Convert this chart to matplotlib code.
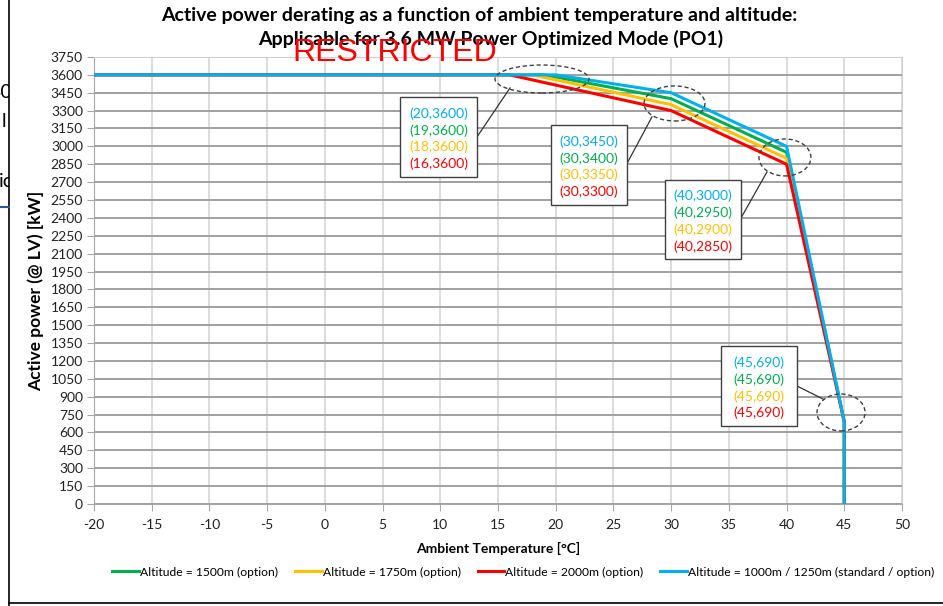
import matplotlib.pyplot as plt
from matplotlib.patches import Ellipse, Rectangle
import numpy as np

# derating curves (temperature degC, power kW)
temp_1500 = [-20, 19, 30, 40, 45, 45]
pow_1500 = [3600, 3600, 3400, 2950, 690, 0]
temp_1750 = [-20, 18, 30, 40, 45, 45]
pow_1750 = [3600, 3600, 3350, 2900, 690, 0]
temp_2000 = [-20, 16, 30, 40, 45, 45]
pow_2000 = [3600, 3600, 3300, 2850, 690, 0]
temp_1000 = [-20, 20, 30, 40, 45, 45]
pow_1000 = [3600, 3600, 3450, 3000, 690, 0]

labels = ['Altitude = 1500m (option)', 'Altitude = 1750m (option)',
          'Altitude = 2000m (option)', 'Altitude = 1000m / 1250m (standard / option)']
colors = ['#00b050', '#ffc000', '#ff0000', '#00b0f0']

# callout texts, one block per break point (order: 1000, 1500, 1750, 2000)
callouts = [
    ['(20,3600)', '(19,3600)', '(18,3600)', '(16,3600)'],
    ['(30,3450)', '(30,3400)', '(30,3350)', '(30,3300)'],
    ['(40,3000)', '(40,2950)', '(40,2900)', '(40,2850)'],
    ['(45,690)', '(45,690)', '(45,690)', '(45,690)'],
]
txt_colors = ['#00b0f0', '#00b050', '#ffc000', '#ff0000']

plt.rcParams['font.family'] = ['Lato', 'DejaVu Sans']
plt.rcParams['axes.unicode_minus'] = False

fig = plt.figure(figsize=(9.43, 6.06), dpi=100)
ax = fig.add_axes([0.0997, 0.1683, 0.8568, 0.7377])

series = [(temp_1500, pow_1500), (temp_1750, pow_1750), (temp_2000, pow_2000), (temp_1000, pow_1000)]
for (t, p), c, lab in zip(series, colors, labels):
    ax.plot(t, p, color=c, lw=2.2, label=lab, zorder=3)

ax.set_xlim(-20, 50)
ax.set_ylim(0, 3750)
ax.set_xticks(np.arange(-20, 51, 5))
ax.set_yticks(np.arange(0, 3751, 150))
ax.tick_params(labelsize=10, length=5, color='#a6a6a6', colors='#222222', pad=3)
ax.tick_params(axis='x', pad=6)
ax.yaxis.grid(True, color='#a0a0a0', lw=1.4)
ax.xaxis.grid(True, color='#d9d9d9', lw=1.3)
for s in ax.spines.values():
    s.set_color('#d0d0d0')
ax.spines['left'].set_color('#a6a6a6')
ax.spines['bottom'].set_color('#a6a6a6')

ax.set_xlabel('Ambient Temperature [°C]', fontsize=10, fontweight='bold', labelpad=8)
ax.set_ylabel('Active power (@ LV) [kW]', fontsize=12.5, fontweight='bold')
ax.yaxis.set_label_coords(-0.062, 0.477)

fig.text(0.508, 0.975, 'Active power derating as a function of ambient temperature and altitude:',
         ha='center', va='center', fontsize=14, fontweight='bold')
fig.text(0.52, 0.936, 'Applicable for 3.6 MW Power Optimized Mode (PO1)',
         ha='center', va='center', fontsize=14, fontweight='bold')
fig.text(0.419, 0.913, 'RESTRICTED', ha='center', va='center', fontsize=23,
         color='red', family='Liberation Sans', zorder=10)

# dashed ellipses around break points
ellipses = [((18.81, 3565), 8.14, 235), ((30.29, 3360), 5.28, 294),
            ((39.86, 2907), 4.5, 310), ((44.72, 768), 4.16, 310)]
for (cx, cy), w, h in ellipses:
    ax.add_patch(Ellipse((cx, cy), w, h, fill=False, ls=(0, (3, 2)), lw=1, ec='#404040', zorder=4))

# callout boxes: (x0, x1, ytop, ybot), leader line
boxes = [(6.51, 13.18, 3414, 2743), (19.6, 26.2, 3180, 2508),
         (29.47, 36.05, 2718, 2055), (34.3, 40.9, 1325, 654)]
leaders = [((13.18, 3079), (16.04, 3490)), ((26.2, 2861), (28.34, 3247)),
           ((36.05, 2399), (38.3, 2785)), ((40.9, 990), (43.15, 881))]
for (x0, x1, yt, yb), lines, (a, b) in zip(boxes, callouts, leaders):
    ax.add_patch(Rectangle((x0, yb), x1 - x0, yt - yb, fc='white', ec='#404040', lw=1, zorder=5))
    ax.plot([a[0], b[0]], [a[1], b[1]], color='#333333', lw=0.9, zorder=4)
    step = (yt - yb) / 4.4
    for i, (s, c) in enumerate(zip(lines, txt_colors)):
        ax.text((x0 + x1) / 2, yt - step * (0.9 + i * 0.93), s, color=c, fontsize=10,
                ha='center', va='center', zorder=6)

fig.legend(loc='center', bbox_to_anchor=(0.555, 0.056), ncol=4, frameon=False,
           fontsize=8.7, handlelength=2.2, handletextpad=0.1, columnspacing=1.4)

# page frame and fragments of the surrounding document
fig.add_artist(plt.Line2D([0.0095, 0.0095], [0, 1], color='black', lw=1.2))
fig.add_artist(plt.Line2D([0.0095, 1], [0.0045, 0.0045], color='black', lw=1.2))
fig.add_artist(plt.Line2D([0, 0.0095], [0.658, 0.658], color='#2f5597', lw=1.5))
frag_clip = Rectangle((0, 0), 0.0095, 1, transform=fig.transFigure, visible=False)
fig.add_artist(frag_clip)
for s, x, y in [('30', -0.012, 0.848), ('l', 0.0015, 0.8), ('ic', -0.001, 0.7)]:
    t = fig.text(x, y, s, fontsize=14, va='center')
    t.set_clip_path(frag_clip)
    t.set_clip_on(True)

fig.savefig('out.png', dpi=100)
